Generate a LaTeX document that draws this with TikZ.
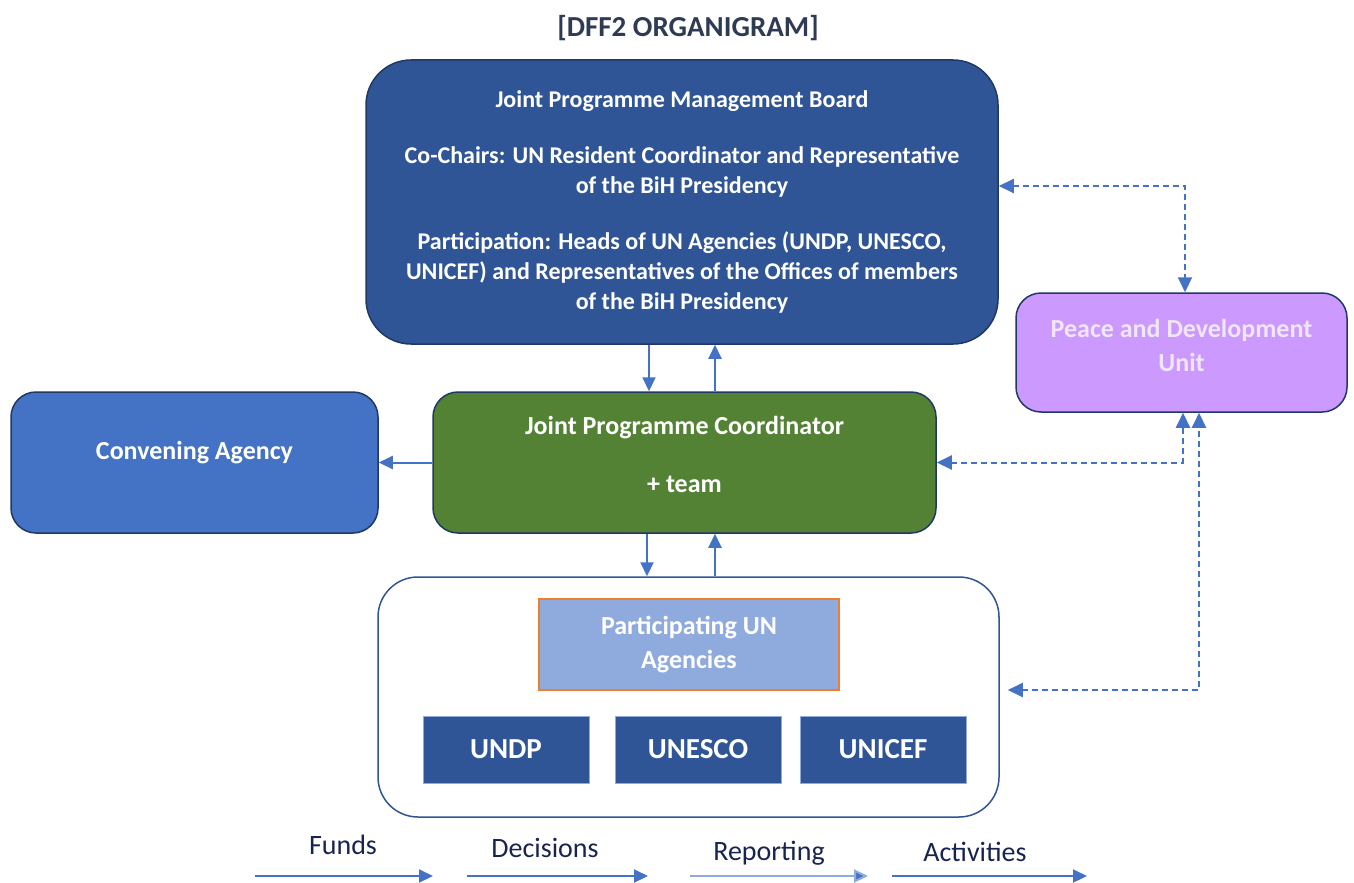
\documentclass[tikz,border=0pt]{standalone}
\usepackage{fontspec}
\setmainfont{Carlito}
\usepackage{xcolor}
\usepackage{tikz}
\usetikzlibrary{arrows.meta, positioning, calc}
\definecolor{boardblue}{RGB}{47, 85, 151}
\definecolor{navyline}{RGB}{31, 56, 100}
\definecolor{convblue}{RGB}{68, 114, 196}
\definecolor{coordgreen}{RGB}{84, 130, 53}
\definecolor{pdupurple}{RGB}{204, 153, 255}
\definecolor{pdutext}{RGB}{240, 230, 248}
\definecolor{agencyblue}{RGB}{143, 170, 220}
\definecolor{edgeorange}{RGB}{237, 125, 49}
\definecolor{titlegray}{RGB}{47, 59, 85}
\definecolor{legendtext}{RGB}{24, 36, 80}

% lift a label inside its box without changing the box size
\newcommand{\liftby}[2]{\raisebox{#1}[\height][\depth]{#2}}

\begin{document}
\begin{tikzpicture}[x=1pt, y=-1pt,
  unit/.style={draw=navyline, line width=1.5pt, rounded corners=25pt, text=white, align=center,
    inner sep=0pt, font=\bfseries\fontsize{26}{34}\selectfont},
  agency/.style={draw=agencyblue, line width=0.8pt, fill=boardblue, text=white, inner sep=0pt,
    minimum width=166pt, minimum height=67pt, font=\bfseries\fontsize{29}{34}\selectfont},
  flow/.style={draw=convblue, line width=2pt, -{Triangle[length=14pt, width=13pt]}},
  dashflow/.style={flow, dash pattern=on 6pt off 4pt, {Triangle[length=15pt, width=14pt]}-{Triangle[length=15pt, width=14pt]}},
  legtext/.style={text=legendtext, font=\fontsize{28}{32}\selectfont, inner sep=0pt}]
\useasboundingbox (0,0) rectangle (1354,883);

\node[text=titlegray, font=\bfseries\fontsize{29}{34}\selectfont] (heading) at (688,28) {[DFF2 ORGANIGRAM]};

% management board
\node[unit, fill=boardblue, rounded corners=45pt, minimum width=632pt, minimum height=284pt,
  font=\bfseries\fontsize{24}{30}\selectfont] (jpmb) at (682,202)
  {Joint Programme Management Board\\[26pt]
   Co-Chairs: UN Resident Coordinator and Representative\\
   of the BiH Presidency\\[26pt]
   Participation: Heads of UN Agencies (UNDP, UNESCO,\\
   UNICEF) and Representatives of the Offices of members\\
   of the BiH Presidency};

\node[unit, fill=pdupurple, text=pdutext, minimum width=331pt, minimum height=119pt] (pdu) at (1181.5,352.5)
  {\liftby{5pt}{\begin{tabular}{@{}c@{}}Peace and Development\\Unit\end{tabular}}};

\node[unit, fill=convblue, minimum width=367pt, minimum height=141pt] (conv) at (194.5,462.5)
  {\liftby{10pt}{Convening Agency}};

\node[unit, fill=coordgreen, minimum width=503pt, minimum height=141pt] (coord) at (684.5,462.5)
  {\liftby{6pt}{\begin{tabular}{@{}c@{}}Joint Programme Coordinator\\[24pt]+ team\end{tabular}}};

% participating agencies
\node[draw=boardblue, line width=1.5pt, rounded corners=40pt, fill=white,
  minimum width=621pt, minimum height=240pt] (unbox) at (688.5,697) {};
\node[draw=edgeorange, line width=1.2pt, fill=agencyblue, text=white, align=center,
  minimum width=300pt, minimum height=91pt, font=\bfseries\fontsize{26}{34}\selectfont] (puna) at (689,644.5)
  {Participating UN\\Agencies};
\node[agency] (undp) at (506,749.5) {UNDP};
\node[agency] (unesco) at (698,749.5) {UNESCO};
\node[agency] (unicef) at (883,749.5) {UNICEF};

% solid links
\draw[flow] ([xshift=-33pt]jpmb.south) -- ([xshift=-35.5pt]coord.north);
\draw[flow] ([xshift=30.5pt]coord.north) -- ([xshift=33pt]jpmb.south);
\draw[flow] (coord.west) -- (conv.east);
\draw[flow] ([xshift=-37.5pt]coord.south) -- ([xshift=-41.5pt]unbox.north);
\draw[flow] ([xshift=26.5pt]unbox.north) -- ([xshift=30.5pt]coord.south);

% dashed links to the unit
\draw[dashflow] ([yshift=16pt]jpmb.east) -| ([xshift=3.5pt]pdu.north);
\draw[dashflow] (coord.east) -| ([xshift=1.5pt]pdu.south);
\draw[dashflow] ([xshift=8pt, yshift=7pt]unbox.east) -| ([xshift=17.5pt]pdu.south);

% legend
\foreach \lab/\tx/\ty/\xa/\xb/\ln in {Funds/343/845/255/433/convblue,
    Decisions/545/848/467/648/convblue, Reporting/769/853/690/868/agencyblue,
    Activities/975/852/892/1087/convblue} {
  \node[legtext] (\lab) at (\tx,\ty) {\lab};
  \coordinate (\lab-s) at (\xa,876);
  \coordinate (\lab-e) at (\xb,876);
  \draw[flow, draw=\ln, -{Triangle[length=14pt, width=13pt, fill=convblue]}] (\lab-s) -- (\lab-e);
}
\end{tikzpicture}
\end{document}
